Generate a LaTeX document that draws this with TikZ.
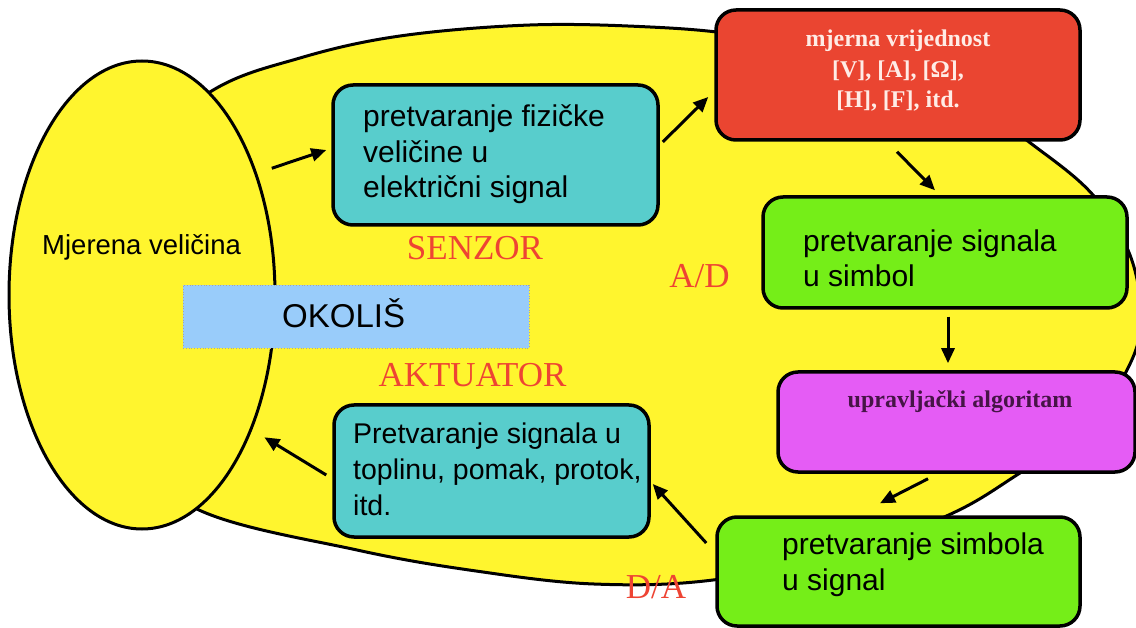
\documentclass[tikz,border=0pt]{standalone}
\usepackage{fontspec}
\setmainfont{Liberation Serif}
\newfontfamily\sansf{Liberation Sans}
\usetikzlibrary{arrows.meta,calc,shapes.geometric}
\definecolor{ylw}{RGB}{255,245,46}
\definecolor{tealc}{RGB}{88,205,204}
\definecolor{redc}{RGB}{234,69,49}
\definecolor{greenc}{RGB}{117,238,24}
\definecolor{magc}{RGB}{229,92,245}
\definecolor{bluec}{RGB}{153,204,250}
\definecolor{redtxt}{RGB}{238,68,51}
\definecolor{pinktxt}{RGB}{255,236,230}
\definecolor{purptxt}{RGB}{70,20,70}
\begin{document}
\begin{tikzpicture}[x=1pt,y=-1pt,
  box/.style={draw=black, line width=3.5pt, rounded corners=20pt, inner sep=0pt},
  txt/.style={font={\sansf\fontsize{30}{35.5}\selectfont}, align=left, inner sep=0pt, anchor=base west},
  lab/.style={text=redtxt, font={\fontsize{35}{40}\selectfont}, inner sep=0pt, anchor=base},
  arr/.style={line width=3pt, -{Triangle[length=15pt,width=13pt]}}]
\fill[white] (0,0) rectangle (1136,628);
\useasboundingbox (0,0) rectangle (1136,628);
% big environment shape
\draw[fill=ylw, line width=3pt] plot[smooth cycle, tension=0.6] coordinates {
 (120,170) (210,92) (300,58) (400,36) (530,25) (650,27) (740,35) (850,55)
 (960,95) (1033,145) (1093,195) (1130,255) (1141,320) (1127,370) (1085,430)
 (1020,473) (953,513) (850,552) (713,580) (594,584) (476,571) (357,550)
 (199,510) (120,440) (90,300)};
% measured quantity
\node[draw, ellipse, fill=ylw, line width=3pt, minimum width=266pt, minimum height=468pt, inner sep=0pt] (mv) at (142,295) {};
\node[txt, font={\sansf\fontsize{27.5}{30}\selectfont}] (mvt) at (42,255) {Mjerena veličina};
% OKOLIS
\node[draw=gray!70, dotted, line width=0.8pt, fill=bluec, minimum width=346pt, minimum height=63pt, inner sep=0pt] (ok) at (356,316.5) {};
\node[txt, font={\sansf\fontsize{33}{36}\selectfont}] (okt) at (282,328) {OKOLIŠ};
% boxes
\node[box, fill=tealc, minimum width=325pt, minimum height=140pt] (sensor) at (495.5,155) {};
\node[txt] (sensort) at (363,198) {pretvaranje fizičke\\veličine u\\električni signal};
\node[box, fill=redc, minimum width=364pt, minimum height=130pt] (red) at (898,75) {};
\node[font={\bfseries\fontsize{24}{30.5}\selectfont}, text=pinktxt, align=center, inner sep=0pt, anchor=base] (redt) at (898,108) {mjerna vrijednost\\{[V], [A], [Ω],}\\{[H], [F], itd.}};
\node[box, fill=greenc, minimum width=364pt, minimum height=111pt] (g1) at (945,252.5) {};
\node[txt] (g1t) at (803,287) {pretvaranje signala\\u simbol};
\node[box, fill=magc, minimum width=357pt, minimum height=100pt] (mag) at (956.5,422) {};
\node[font={\bfseries\fontsize{24}{28}\selectfont}, text=purptxt, inner sep=0pt, anchor=base] (magt) at (960,407) {upravljački algoritam};
\node[box, fill=greenc, minimum width=363pt, minimum height=109pt] (g2) at (898.5,571.5) {};
\node[txt] (g2t) at (782,590) {pretvaranje simbola\\u signal};
\node[box, fill=tealc, minimum width=315pt, minimum height=132pt] (act) at (491.5,471) {};
\node[txt, font={\sansf\fontsize{28.5}{36}\selectfont}] (actt) at (353,515) {Pretvaranje signala u\\toplinu, pomak, protok,\\itd.};
% labels
\node[lab] (senz) at (475,260) {SENZOR};
\node[lab] (aktu) at (472.5,387) {AKTUATOR};
\node[lab] (ad) at (699.5,288) {A/D};
\node[lab] (da) at (656,598) {D/A};
% arrows
\draw[arr] ([shift={(12,-13)}]mv.44) -- ([shift={(-5,-5)}]sensor.west);
\draw[arr] ([shift={(3,-13)}]sensor.east) -- ([shift={(-6,22)}]red.west);
\draw[arr] ([shift={(-1,10)}]red.south) -- ([shift={(-10,-5)}]g1.north);
\draw[arr] ([shift={(3,7)}]g1.south) -- ([shift={(-8.5,-7)}]mag.north);
\draw[arr] ([shift={(-28.5,5)}]mag.south) -- ([shift={(-18.5,-12)}]g2.north);
\draw[arr] ([shift={(-9,-28.5)}]g2.west) -- ([shift={(2,13)}]act.east);
\draw[arr] ([shift={(-6,4)}]act.west) -- ([shift={(10,13)}]mv.-49);
\end{tikzpicture}
\end{document}
